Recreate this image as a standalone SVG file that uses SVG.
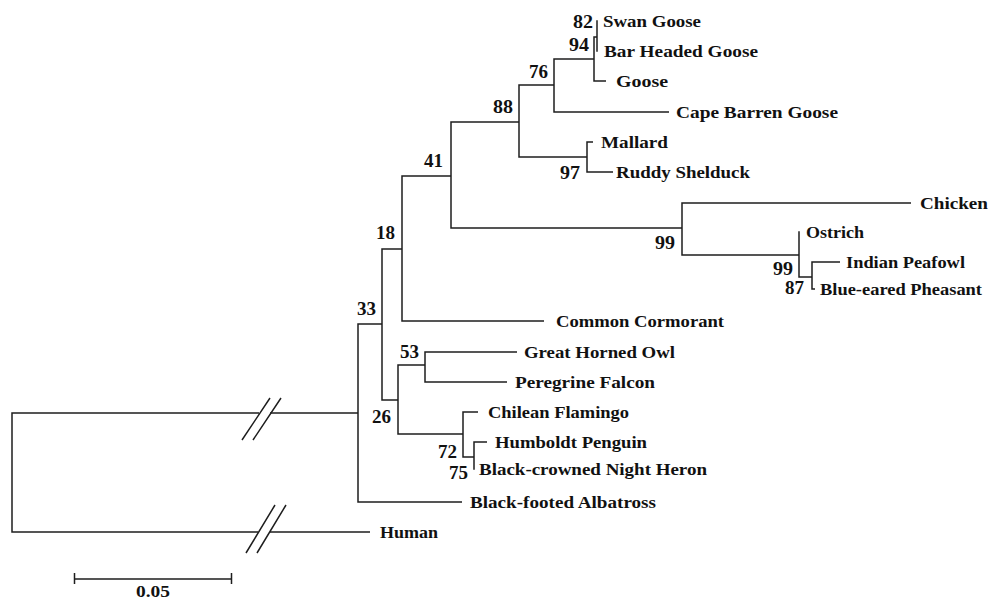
<svg xmlns="http://www.w3.org/2000/svg" width="989" height="600" viewBox="0 0 989 600">
<style>
.e{fill:none;stroke:#1e1e1e;stroke-width:1.5;stroke-linecap:butt}
.t{font-family:"Liberation Serif","Times New Roman",serif;font-weight:bold;font-size:17px;fill:#111}
.n{font-family:"Liberation Serif","Times New Roman",serif;font-weight:bold;font-size:18px;fill:#111;text-anchor:end}
</style>
<rect width="989" height="600" fill="#fff"/>
<g id="connectors">
<path class="e" d="M12,413 H259 M270,413 H358 M12,412.3 V532.7 M12,532 H258 M270,532 H370"/>
<path class="e" d="M242,440 L270,398 M253,440 L281,398 M246,553 L275,505 M257,553 L286,505"/>
<path class="e" d="M358,323.3 V502.7 M358,324 H382 M358,502 H462"/>
<path class="e" d="M382,248.3 V400.7 M382,249 H402 M382,400 H398"/>
<path class="e" d="M402,175.3 V321.7 M402,176 H451 M402,321 H544"/>
<path class="e" d="M451,121.3 V228.7 M451,122 H519 M451,228 H682"/>
<path class="e" d="M519,84.3 V157.7 M519,85 H554 M519,157 H587"/>
<path class="e" d="M554,58.3 V112.7 M554,59 H594 M554,112 H669"/>
<path class="e" d="M594,36.3 V81.7 M594,37 H597 M594,81 H606"/>
<path class="e" d="M597,20.3 V51.7"/>
<path class="e" d="M587,141.3 V172.7 M587,142 H593 M587,172 H613"/>
<path class="e" d="M682,202.3 V255.7 M682,203 H911 M682,255 H799"/>
<path class="e" d="M799,231.3 V277.7 M799,277 H812"/>
<path class="e" d="M812,261.3 V289.7 M812,262 H840 M812,289 H815"/>
<path class="e" d="M398,364.3 V434.7 M398,365 H425 M398,434 H463"/>
<path class="e" d="M425,351.3 V382.7 M425,352 H517 M425,382 H507"/>
<path class="e" d="M463,411.3 V457.7 M463,412 H478 M463,457 H474"/>
<path class="e" d="M474,441.3 V469.7 M474,442 H487"/>
<path class="e" d="M74,579 H232 M74.5,573 V584 M231.5,573 V584"/>
</g>
<g id="leaf-swan-goose"><text class="t" x="603" y="27" textLength="98" lengthAdjust="spacingAndGlyphs">Swan Goose</text></g>
<g id="leaf-bar-headed-goose"><text class="t" x="604" y="57" textLength="154" lengthAdjust="spacingAndGlyphs">Bar Headed Goose</text></g>
<g id="leaf-goose"><text class="t" x="616" y="86.5" textLength="52" lengthAdjust="spacingAndGlyphs">Goose</text></g>
<g id="leaf-cape-barren-goose"><text class="t" x="676" y="117.5" textLength="162" lengthAdjust="spacingAndGlyphs">Cape Barren Goose</text></g>
<g id="leaf-mallard"><text class="t" x="601" y="148" textLength="67" lengthAdjust="spacingAndGlyphs">Mallard</text></g>
<g id="leaf-ruddy-shelduck"><text class="t" x="616" y="177.5" textLength="134" lengthAdjust="spacingAndGlyphs">Ruddy Shelduck</text></g>
<g id="leaf-chicken"><text class="t" x="920" y="208.5" textLength="68" lengthAdjust="spacingAndGlyphs">Chicken</text></g>
<g id="leaf-ostrich"><text class="t" x="806" y="238" textLength="58" lengthAdjust="spacingAndGlyphs">Ostrich</text></g>
<g id="leaf-indian-peafowl"><text class="t" x="846" y="267.5" textLength="119" lengthAdjust="spacingAndGlyphs">Indian Peafowl</text></g>
<g id="leaf-blue-eared-pheasant"><text class="t" x="820" y="294.5" textLength="162" lengthAdjust="spacingAndGlyphs">Blue-eared Pheasant</text></g>
<g id="leaf-common-cormorant"><text class="t" x="556" y="326.5" textLength="168" lengthAdjust="spacingAndGlyphs">Common Cormorant</text></g>
<g id="leaf-great-horned-owl"><text class="t" x="524" y="357.5" textLength="151" lengthAdjust="spacingAndGlyphs">Great Horned Owl</text></g>
<g id="leaf-peregrine-falcon"><text class="t" x="515" y="387.5" textLength="140" lengthAdjust="spacingAndGlyphs">Peregrine Falcon</text></g>
<g id="leaf-chilean-flamingo"><text class="t" x="488" y="417.5" textLength="141" lengthAdjust="spacingAndGlyphs">Chilean Flamingo</text></g>
<g id="leaf-humboldt-penguin"><text class="t" x="495" y="447.5" textLength="152" lengthAdjust="spacingAndGlyphs">Humboldt Penguin</text></g>
<g id="leaf-black-crowned-night-heron"><text class="t" x="479" y="474.5" textLength="228" lengthAdjust="spacingAndGlyphs">Black-crowned Night Heron</text></g>
<g id="leaf-black-footed-albatross"><text class="t" x="470" y="507.5" textLength="186" lengthAdjust="spacingAndGlyphs">Black-footed Albatross</text></g>
<g id="leaf-human"><text class="t" x="380" y="537.5" textLength="58" lengthAdjust="spacingAndGlyphs">Human</text></g>
<g id="node-82"><text class="n" x="593" y="28" textLength="20" lengthAdjust="spacingAndGlyphs">82</text></g>
<g id="node-94"><text class="n" x="589" y="51" textLength="20" lengthAdjust="spacingAndGlyphs">94</text></g>
<g id="node-76"><text class="n" x="548" y="78" textLength="19" lengthAdjust="spacingAndGlyphs">76</text></g>
<g id="node-88"><text class="n" x="513" y="113" textLength="20" lengthAdjust="spacingAndGlyphs">88</text></g>
<g id="node-97"><text class="n" x="580" y="179" textLength="20" lengthAdjust="spacingAndGlyphs">97</text></g>
<g id="node-41"><text class="n" x="443" y="166.5" textLength="19" lengthAdjust="spacingAndGlyphs">41</text></g>
<g id="node-99a"><text class="n" x="675" y="249" textLength="20" lengthAdjust="spacingAndGlyphs">99</text></g>
<g id="node-99b"><text class="n" x="793" y="275" textLength="20" lengthAdjust="spacingAndGlyphs">99</text></g>
<g id="node-87"><text class="n" x="804" y="293.5" textLength="19" lengthAdjust="spacingAndGlyphs">87</text></g>
<g id="node-18"><text class="n" x="395" y="239" textLength="19" lengthAdjust="spacingAndGlyphs">18</text></g>
<g id="node-33"><text class="n" x="376" y="315" textLength="19" lengthAdjust="spacingAndGlyphs">33</text></g>
<g id="node-53"><text class="n" x="419" y="358" textLength="19" lengthAdjust="spacingAndGlyphs">53</text></g>
<g id="node-26"><text class="n" x="391" y="423" textLength="19" lengthAdjust="spacingAndGlyphs">26</text></g>
<g id="node-72"><text class="n" x="457" y="458" textLength="19" lengthAdjust="spacingAndGlyphs">72</text></g>
<g id="node-75"><text class="n" x="468" y="479" textLength="19" lengthAdjust="spacingAndGlyphs">75</text></g>
<g id="scale-label"><text class="t" x="136" y="597" textLength="34" lengthAdjust="spacingAndGlyphs">0.05</text></g>
</svg>
